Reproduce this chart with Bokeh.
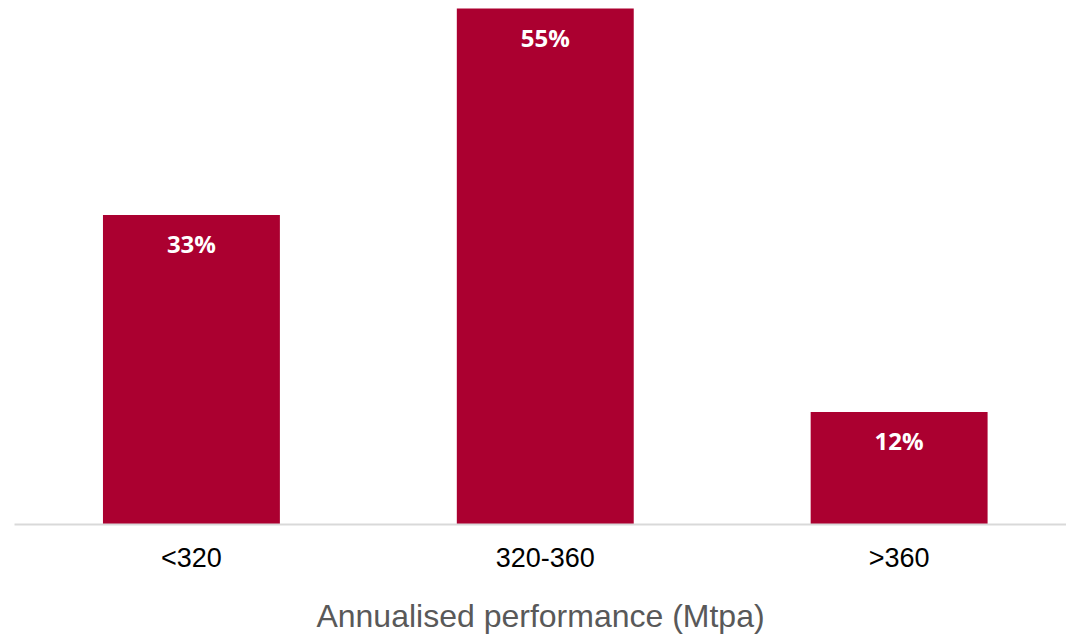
from bokeh.plotting import figure
from bokeh.models import ColumnDataSource, Range1d, FixedTicker
from bokeh.core.properties import value
from bokeh.embed import file_html
from bokeh.resources import INLINE

# Share of periods by annualised performance band
categories = ["<320", "320-360", ">360"]
shares = [33, 55, 12]

xs = list(range(len(categories)))
source = ColumnDataSource(data=dict(
    x=xs,
    top=shares,
    label=[f"{s}%" for s in shares],
))

p = figure(
    width=1066, height=637,
    x_range=Range1d(-0.5, 2.473),
    y_range=Range1d(0, 55.85),
    output_backend="svg",
    toolbar_location=None,
    min_border_left=14, min_border_right=0,
    min_border_top=0, min_border_bottom=113,
)

bar_color = "#ab0030"
p.vbar(x="x", top="top", bottom=0, width=0.5, source=source,
       fill_color=bar_color, line_color=None)

p.text(x="x", y="top", text="label", source=source,
       text_align="center", text_baseline="middle", y_offset=29,
       text_color="white", text_font=value("Open Sans"),
       text_font_style="bold", text_font_size="24px")

p.yaxis.visible = False
p.xgrid.visible = False
p.ygrid.visible = False
p.outline_line_color = None

ax = p.xaxis[0]
ax.ticker = FixedTicker(ticks=xs)
ax.major_label_overrides = {i: c for i, c in zip(xs, categories)}
ax.major_tick_line_color = None
ax.minor_tick_line_color = None
ax.axis_line_color = "#d9d9d9"
ax.axis_line_width = 2
ax.major_label_text_font = "Liberation Sans"
ax.major_label_text_font_size = "27px"
ax.major_label_text_color = "#000000"
ax.major_label_standoff = 12
ax.axis_label = "Annualised performance (Mtpa)"
ax.axis_label_text_font = "Liberation Sans"
ax.axis_label_text_font_size = "32px"
ax.axis_label_text_font_style = "normal"
ax.axis_label_text_color = "#595959"
ax.axis_label_standoff = 22

open("out.html", "w").write(file_html(p, INLINE))
